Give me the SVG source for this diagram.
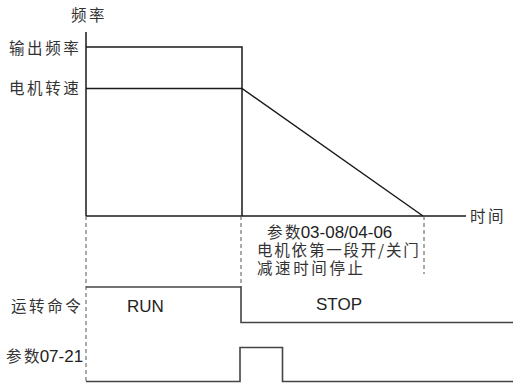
<svg xmlns="http://www.w3.org/2000/svg" width="513" height="384" viewBox="0 0 513 384">
<style>
.ln{fill:none;stroke:#1a1a1a;stroke-width:1.5}
.sig{fill:none;stroke:#444;stroke-width:1.6}
.dash{fill:none;stroke:#555;stroke-width:1;stroke-dasharray:4 3}
.cj{font-family:"Noto Sans CJK SC","Liberation Sans",sans-serif;font-size:15.5px;fill:#333;letter-spacing:2.6px}
.la{font-family:"Liberation Sans",Arial,sans-serif;font-size:17px;fill:#222;letter-spacing:0}
</style>
<rect width="513" height="384" fill="#fff"/>
<g id="axes">
<line class="ln" x1="86" y1="32" x2="86" y2="216"/>
<line class="ln" x1="86" y1="216" x2="466" y2="216"/>
</g>
<g id="connectors">
<polyline class="ln" points="86,47 242,47 242,216"/>
<polyline class="ln" points="86,88.5 242,88.5 423,216"/>
<line class="dash" x1="86" y1="216" x2="86" y2="384"/>
<line class="dash" x1="241" y1="216" x2="241" y2="287"/>
<line class="dash" x1="424" y1="216" x2="424" y2="274"/>
<polyline class="sig" points="86,287 241,287 241,322.5 513,322.5"/>
<polyline class="sig" points="86,381.5 240,381.5 240,347.5 282.5,347.5 282.5,381.5 513,381.5"/>
</g>
<g id="label-freq"><text class="cj" x="71" y="21">频率</text></g>
<g id="label-output"><text class="cj" x="9" y="53.5">输出频率</text></g>
<g id="label-motor"><text class="cj" x="9" y="94">电机转速</text></g>
<g id="label-time"><text class="cj" x="470" y="222">时间</text></g>
<g id="note">
<text x="267" y="238"><tspan class="cj">参</tspan><tspan class="cj" style="letter-spacing:0">数</tspan><tspan class="la">03-08/04-06</tspan></text>
<text class="cj" x="257" y="256" style="letter-spacing:1.8px">电机依第一段开/关门</text>
<text class="cj" x="257" y="273.5">减速时间停止</text>
</g>
<g id="label-run-cmd"><text class="cj" x="11" y="312">运转命令</text></g>
<g id="label-run"><text class="la" x="127" y="312">RUN</text></g>
<g id="label-stop"><text class="la" x="316" y="310">STOP</text></g>
<g id="label-param"><text x="6" y="362"><tspan class="cj">参</tspan><tspan class="cj" style="letter-spacing:0">数</tspan><tspan class="la">07-21</tspan></text></g>
</svg>
